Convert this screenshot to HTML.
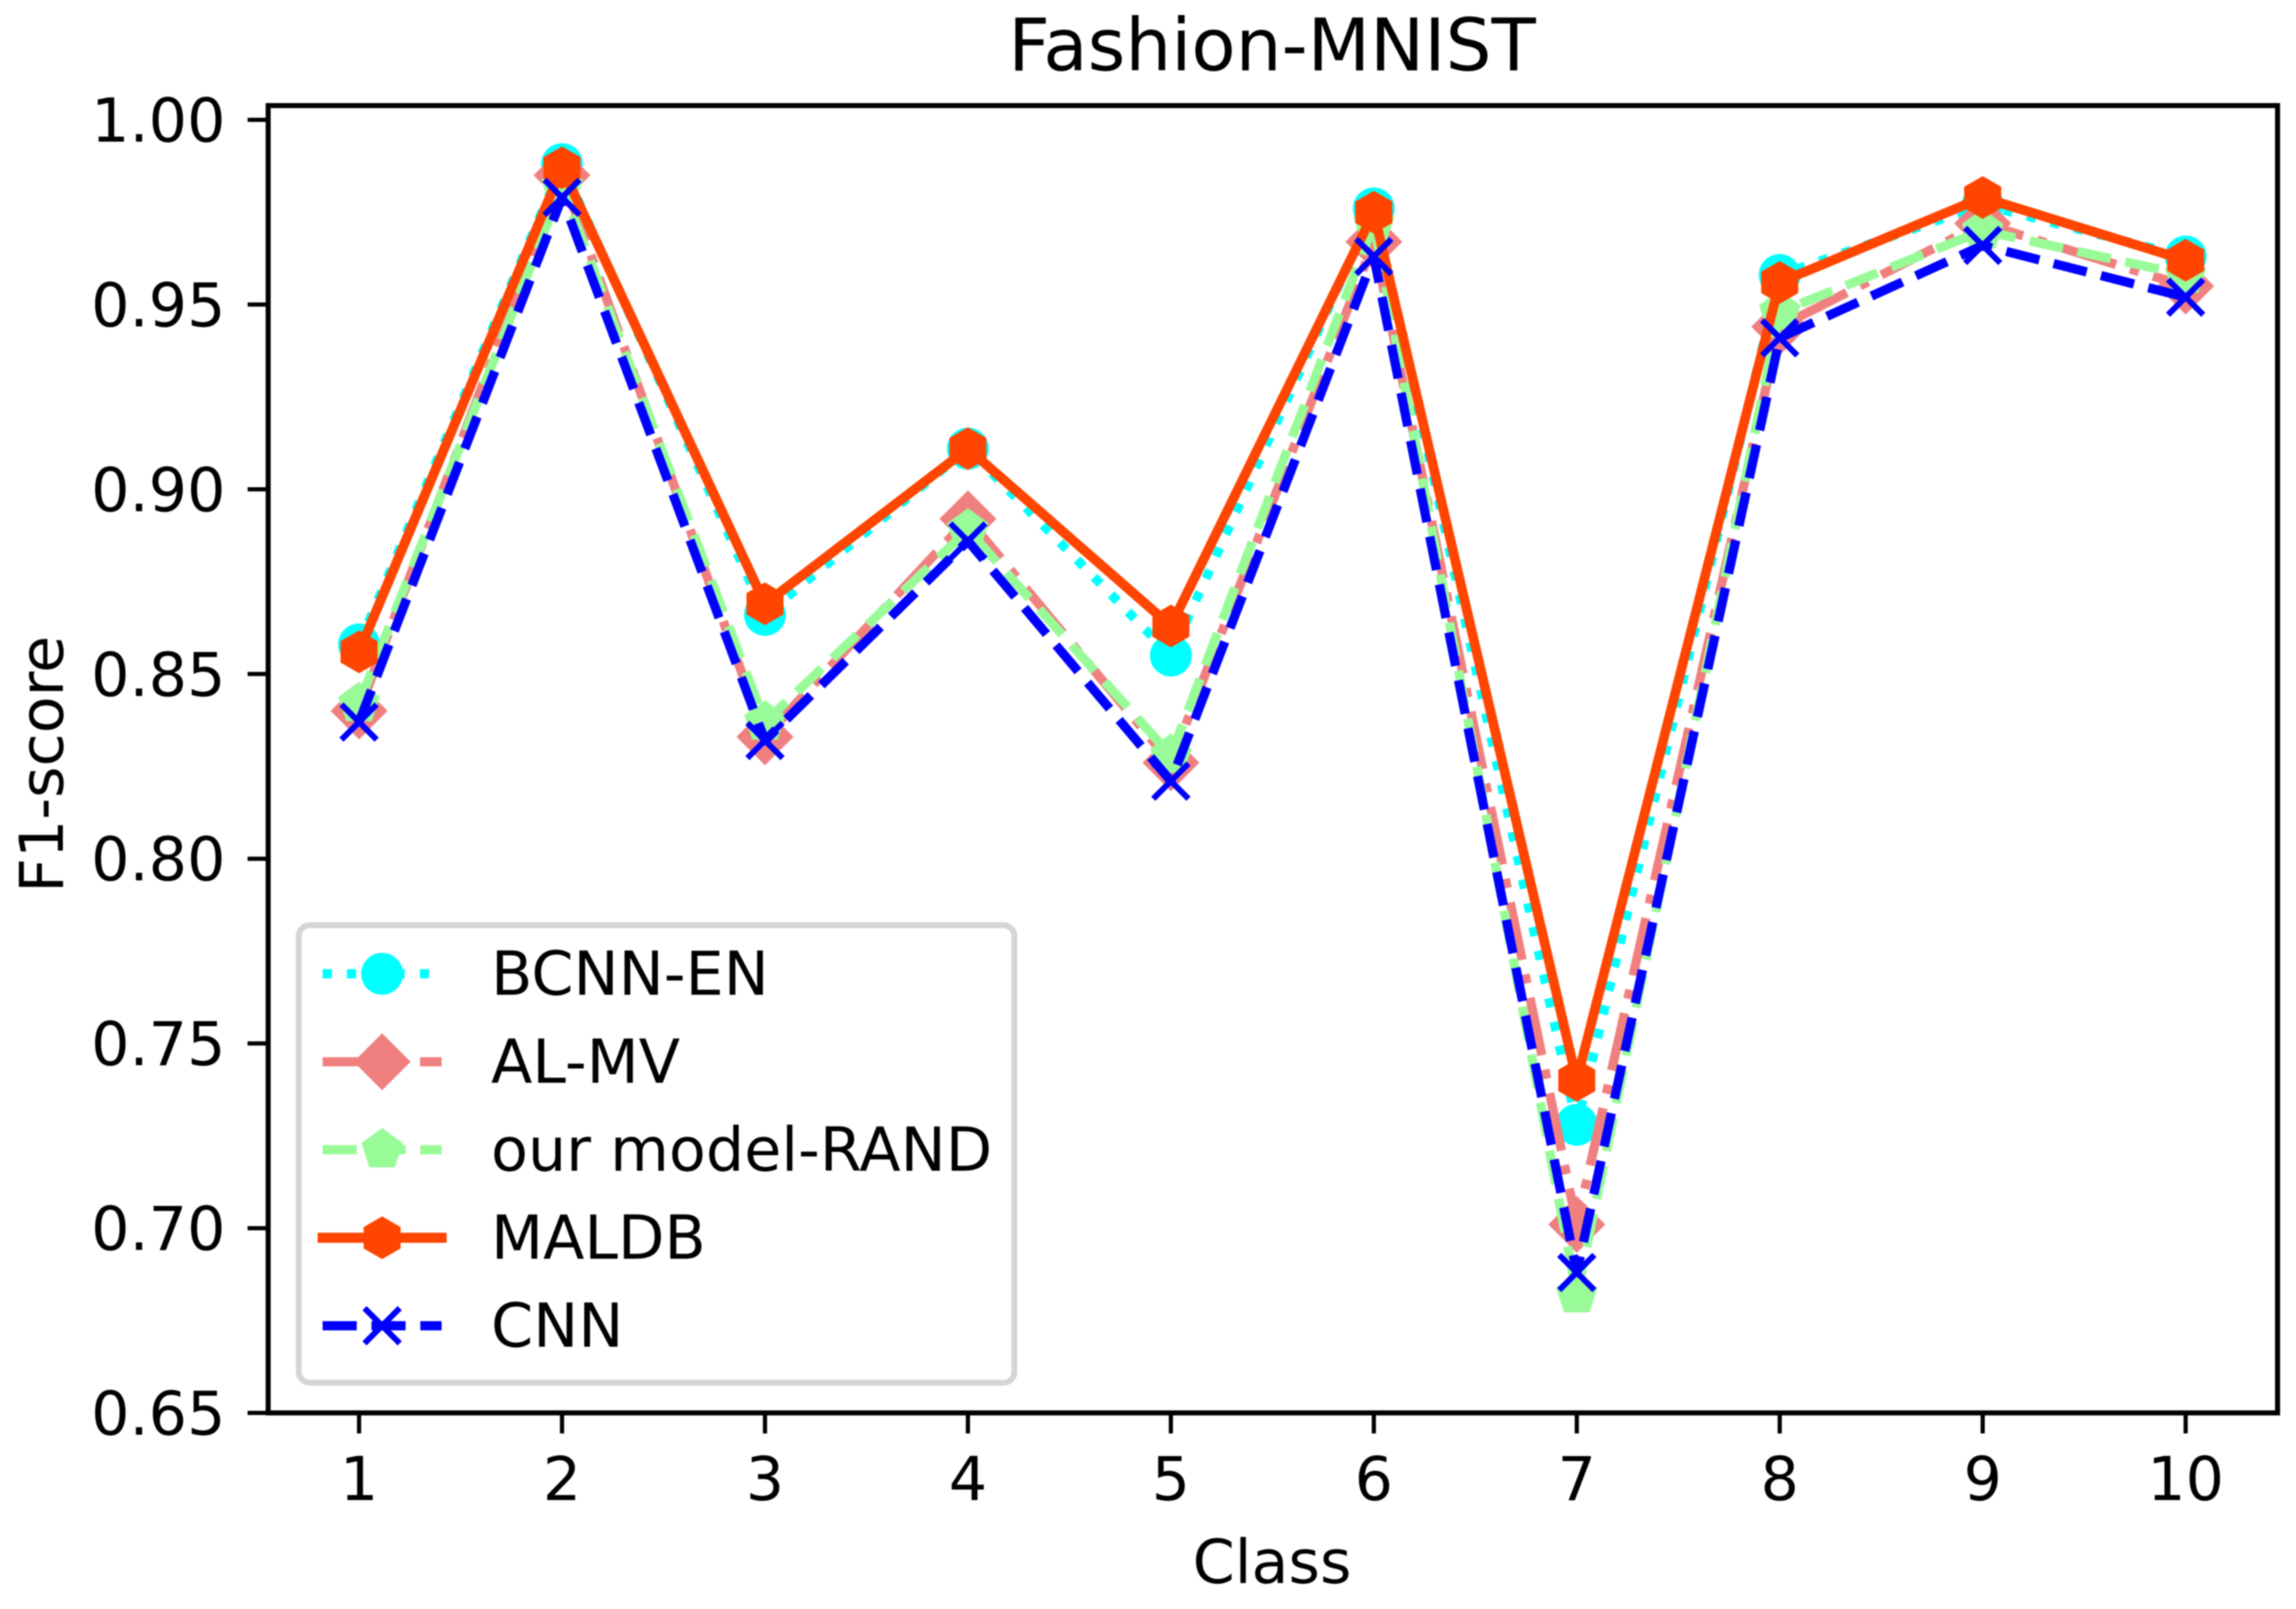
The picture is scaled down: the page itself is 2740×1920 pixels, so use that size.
<!DOCTYPE html>
<html lang="en">
<head>
<meta charset="utf-8">
<title>Fashion-MNIST F1-score by class</title>
<style>
html,body{margin:0;padding:0;background:#fff;width:2740px;height:1920px;overflow:hidden}
svg{display:block;font-family:"DejaVu Sans","Liberation Sans",sans-serif;fill:#000;filter:blur(0.8px)}
</style>
</head>
<body>
<svg id="chart" xmlns="http://www.w3.org/2000/svg" width="2740" height="1920" viewBox="0 0 2740 1920">
  <rect x="0" y="0" width="2740" height="1920" fill="#fff"/>
  <text x="1518" y="84" font-size="86.4" text-anchor="middle">Fashion-MNIST</text>
  <text x="1518" y="1889" font-size="72" text-anchor="middle">Class</text>
  <text transform="translate(75 912) rotate(-90)" font-size="72" text-anchor="middle">F1-score</text>
  <g id="series-layer"></g>
  <g id="axes-layer"></g>
  <g id="legend-layer">
    <rect x="356.5" y="1104" width="854" height="546" rx="13" ry="13" fill="#fff" fill-opacity="0.8" stroke="#d5d5d5" stroke-width="7"/>
  </g>
</svg>
<script>
const categories = ["1", "2", "3", "4", "5", "6", "7", "8", "9", "10"];
const yTicks = [0.65, 0.70, 0.75, 0.80, 0.85, 0.90, 0.95, 1.00];
const yTickLabels = ["0.65", "0.70", "0.75", "0.80", "0.85", "0.90", "0.95", "1.00"];
const bcnnEn = [0.858, 0.988, 0.866, 0.911, 0.855, 0.976, 0.728, 0.958, 0.977, 0.963];
const alMv = [0.840, 0.985, 0.833, 0.892, 0.826, 0.967, 0.701, 0.944, 0.972, 0.955];
const ourModelRand = [0.842, 0.982, 0.837, 0.889, 0.828, 0.972, 0.682, 0.948, 0.970, 0.958];
const maldb = [0.856, 0.987, 0.869, 0.911, 0.863, 0.975, 0.740, 0.956, 0.979, 0.962];
const cnn = [0.837, 0.979, 0.832, 0.886, 0.821, 0.963, 0.688, 0.941, 0.966, 0.952];
const seriesNames = ["BCNN-EN", "AL-MV", "our model-RAND", "MALDB", "CNN"];

const NS = "http://www.w3.org/2000/svg";
const plot = { left: 320, right: 2718, top: 126, bottom: 1686 };
const xFirst = 428.5, xStep = 242.2;
const yAtOne = 143, yPerUnit = (1686 - 143) / 0.35;

function xScale(index) { return xFirst + index * xStep; }
function yScale(value) { return yAtOne + (1 - value) * yPerUnit; }

const styles = [
  { values: bcnnEn, color: "#00ffff", width: 11, dash: "11 18", marker: "circle", slug: "bcnn-en" },
  { values: alMv, color: "#f08080", width: 11, dash: "70 17.6 11 17.6", marker: "diamond", slug: "al-mv" },
  { values: ourModelRand, color: "#98fb98", width: 11, dash: "40.7 17.6", marker: "pentagon", slug: "our-model-rand" },
  { values: maldb, color: "#ff4500", width: 11.5, dash: null, marker: "hexagon", slug: "maldb" },
  { values: cnn, color: "#0000ff", width: 11, dash: "40.7 17.6", marker: "x", slug: "cnn" }
];

function polygonPoints(cx, cy, radius, sides) {
  const pts = [];
  for (let k = 0; k < sides; k++) {
    const a = -Math.PI / 2 + k * 2 * Math.PI / sides;
    pts.push((cx + radius * Math.cos(a)).toFixed(2) + "," + (cy + radius * Math.sin(a)).toFixed(2));
  }
  return pts.join(" ");
}

function drawMarker(parent, kind, cx, cy, color, name) {
  let el;
  if (kind === "circle") {
    el = document.createElementNS(NS, "circle");
    el.setAttribute("cx", cx);
    el.setAttribute("cy", cy);
    el.setAttribute("r", 25);
    el.setAttribute("fill", color);
  } else if (kind === "x") {
    el = document.createElementNS(NS, "path");
    const h = 21;
    el.setAttribute("d", "M" + (cx - h) + " " + (cy - h) + "L" + (cx + h) + " " + (cy + h) + "M" + (cx - h) + " " + (cy + h) + "L" + (cx + h) + " " + (cy - h));
    el.setAttribute("fill", "none");
    el.setAttribute("stroke", color);
    el.setAttribute("stroke-width", 7);
  } else {
    el = document.createElementNS(NS, "polygon");
    const sides = kind === "diamond" ? 4 : kind === "pentagon" ? 5 : 6;
    const radius = kind === "diamond" ? 34 : kind === "pentagon" ? 26 : 25.5;
    el.setAttribute("points", polygonPoints(cx, cy, radius, sides));
    el.setAttribute("fill", color);
  }
  
  
  parent.appendChild(el);
}

function addLine(parent, x1, y1, x2, y2, width, name) {
  const l = document.createElementNS(NS, "line");
  l.setAttribute("x1", x1);
  l.setAttribute("y1", y1);
  l.setAttribute("x2", x2);
  l.setAttribute("y2", y2);
  l.setAttribute("stroke", "#000");
  l.setAttribute("stroke-width", width);
  l.setAttribute("stroke-linecap", "square");
  
  
  parent.appendChild(l);
}

function addText(parent, x, y, str, anchor, name) {
  const t = document.createElementNS(NS, "text");
  t.setAttribute("x", x);
  t.setAttribute("y", y);
  t.setAttribute("font-size", 72);
  t.setAttribute("text-anchor", anchor);
  t.textContent = str;
  
  
  parent.appendChild(t);
}

const seriesLayer = document.getElementById("series-layer");
styles.forEach(function (s) {
  const g = document.createElementNS(NS, "g");
  
  
  const line = document.createElementNS(NS, "polyline");
  line.setAttribute("points", s.values.map(function (v, i) { return xScale(i).toFixed(2) + "," + yScale(v).toFixed(2); }).join(" "));
  line.setAttribute("fill", "none");
  line.setAttribute("stroke", s.color);
  line.setAttribute("stroke-width", s.width);
  line.setAttribute("stroke-linejoin", "round");
  line.setAttribute("stroke-linecap", s.dash ? "butt" : "square");
  if (s.dash) line.setAttribute("stroke-dasharray", s.dash);
  
  
  g.appendChild(line);
  s.values.forEach(function (v, i) {
    drawMarker(g, s.marker, xScale(i), yScale(v), s.color, 'point-' + s.slug + '-' + categories[i]);
  });
  seriesLayer.appendChild(g);
});

const axesLayer = document.getElementById("axes-layer");
addLine(axesLayer, plot.left, plot.top, plot.left, plot.bottom, 6, 'spine-left');
addLine(axesLayer, plot.right, plot.top, plot.right, plot.bottom, 6, 'spine-right');
addLine(axesLayer, plot.left, plot.top, plot.right, plot.top, 6, 'spine-top');
addLine(axesLayer, plot.left, plot.bottom, plot.right, plot.bottom, 6, 'spine-bottom');
categories.forEach(function (c, i) {
  addLine(axesLayer, xScale(i), plot.bottom, xScale(i), plot.bottom + 22, 5, 'x-tick-' + c);
  addText(axesLayer, xScale(i), 1790, c, "middle", 'x-tick-label-' + c);
});
yTicks.forEach(function (v, i) {
  addLine(axesLayer, plot.left - 22, yScale(v), plot.left, yScale(v), 5, 'y-tick-' + yTickLabels[i]);
  addText(axesLayer, 269, yScale(v) + 26, yTickLabels[i], "end", 'y-tick-label-' + yTickLabels[i]);
});

const legendLayer = document.getElementById("legend-layer");
styles.forEach(function (s, i) {
  const rowY = 1162 + i * 105;
  const row = document.createElementNS(NS, "g");
  
  
  const h = document.createElementNS(NS, "line");
  h.setAttribute("x1", 385);
  h.setAttribute("y1", rowY);
  h.setAttribute("x2", 527);
  h.setAttribute("y2", rowY);
  h.setAttribute("stroke", s.color);
  h.setAttribute("stroke-width", s.dash ? 11 : 12);
  h.setAttribute("stroke-linecap", s.dash ? "butt" : "square");
  if (s.dash) h.setAttribute("stroke-dasharray", s.dash);
  
  
  row.appendChild(h);
  drawMarker(row, s.marker, 456, rowY, s.color, 'legend-marker-' + s.slug);
  addText(row, 586, rowY + 25, seriesNames[i], "start", 'legend-label-' + s.slug);
  legendLayer.appendChild(row);
});
</script>
</body>
</html>
